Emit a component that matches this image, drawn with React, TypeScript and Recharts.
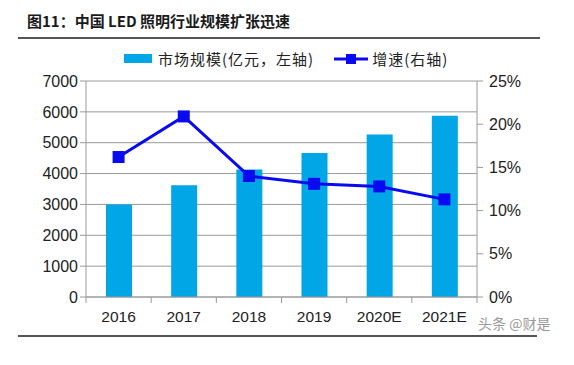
import React from "react";
import {
  ComposedChart,
  Bar,
  Line,
  XAxis,
  YAxis,
  CartesianGrid,
} from "recharts";

const years = ["2016", "2017", "2018", "2019", "2020E", "2021E"];
const marketSize = [3000, 3620, 4130, 4670, 5270, 5870]; // 亿元
const growth = [0.162, 0.209, 0.14, 0.131, 0.128, 0.113];
const leftTicks = [0, 1000, 2000, 3000, 4000, 5000, 6000, 7000];
const rightTicks = [0, 0.05, 0.1, 0.15, 0.2, 0.25];

const BAR_COLOR = "#00a6e6";
const LINE_COLOR = "#0a0af0";
const AXIS_COLOR = "#9a9a9a";
const FONT = "'Liberation Sans', Arial, sans-serif";
const CJK = "'Noto Sans CJK SC', 'Liberation Sans', sans-serif";

const data = years.map((y, i) => ({
  year: y,
  size: marketSize[i],
  growth: growth[i],
}));

// square marker like excel
const SquareDot = (props: any) => {
  const { cx, cy } = props;
  if (cx == null || cy == null) return null;
  return <rect x={cx - 6} y={cy - 6} width={12} height={12} fill={LINE_COLOR} />;
};

// category label plus boundary tick marks
const XTick = (props: any) => {
  const { x, y, payload, index } = props;
  const half = payload?.offset ?? 32.6;
  const top = y - 8;
  return (
    <g>
      <line x1={x - half} y1={top} x2={x - half} y2={top + 6} stroke={AXIS_COLOR} />
      {index === years.length - 1 && (
        <line x1={x + half} y1={top} x2={x + half} y2={top + 6} stroke={AXIS_COLOR} />
      )}
      <text x={x} y={y + 17} textAnchor="middle" fontSize={15.5} fill="#222" fontFamily={FONT}>
        {payload.value}
      </text>
    </g>
  );
};

const ChartLegend = () => (
  <div
    style={{
      position: "absolute",
      left: 124,
      top: 48,
      display: "flex",
      alignItems: "center",
      fontFamily: CJK,
      fontSize: 15,
      letterSpacing: 1,
      color: "#222",
      whiteSpace: "nowrap",
    }}
  >
    <span style={{ width: 28, height: 9, background: BAR_COLOR, display: "inline-block" }} />
    <span style={{ marginLeft: 6 }}>市场规模(亿元，左轴)</span>
    <svg width={34} height={14} style={{ marginLeft: 20 }}>
      <line x1={0} y1={7} x2={34} y2={7} stroke={LINE_COLOR} strokeWidth={3} />
      <rect x={12} y={2} width={10} height={10} fill={LINE_COLOR} />
    </svg>
    <span style={{ marginLeft: 4 }}>增速(右轴)</span>
  </div>
);

export default function App() {
  return (
    <div style={{ position: "absolute", left: 0, top: 0, width: 574, height: 365, background: "#fff" }}>
      <div
        style={{
          position: "absolute",
          left: 27,
          top: 10,
          fontFamily: CJK,
          fontWeight: 700,
          fontSize: 15,
          color: "#1a1a1a",
          whiteSpace: "nowrap",
        }}
      >
        图11：中国 LED 照明行业规模扩张迅速
      </div>
      <div style={{ position: "absolute", left: 18, top: 37, width: 522, height: 2, background: "#555" }} />
      <div style={{ position: "absolute", left: 18, top: 335, width: 519, height: 2, background: "#555" }} />
      <div
        style={{
          position: "absolute",
          left: 478,
          top: 313,
          fontFamily: CJK,
          fontSize: 14,
          color: "#9a9a9a",
          whiteSpace: "nowrap",
        }}
      >
        头条 @财是
      </div>
      <ChartLegend />
      <div style={{ position: "absolute", left: 0, top: 0 }}>
        <ComposedChart
          width={574}
          height={365}
          data={data}
          margin={{ top: 81, right: 37, bottom: 38, left: 26 }}
        >
          <CartesianGrid yAxisId="left" vertical={false} stroke={AXIS_COLOR} />
          <XAxis
            dataKey="year"
            axisLine={{ stroke: AXIS_COLOR }}
            tickLine={false}
            tick={<XTick />}
            height={30}
            interval={0}
          />
          <YAxis
            yAxisId="left"
            domain={[0, 7000]}
            ticks={leftTicks}
            width={60}
            axisLine={{ stroke: AXIS_COLOR }}
            tickLine={{ stroke: AXIS_COLOR }}
            tick={{ fontSize: 16, fill: "#222", fontFamily: FONT }}
            interval={0}
          />
          <YAxis
            yAxisId="right"
            orientation="right"
            domain={[0, 0.25]}
            ticks={rightTicks}
            width={60}
            axisLine={{ stroke: AXIS_COLOR }}
            tickLine={{ stroke: AXIS_COLOR }}
            tick={{ fontSize: 16, fill: "#222", fontFamily: FONT, dx: 4 }}
            tickFormatter={(v: number) => `${Math.round(v * 100)}%`}
            interval={0}
          />
          <Bar
            yAxisId="left"
            dataKey="size"
            name="市场规模(亿元，左轴)"
            fill={BAR_COLOR}
            barSize={26}
            isAnimationActive={false}
          />
          <Line
            yAxisId="right"
            dataKey="growth"
            name="增速(右轴)"
            stroke={LINE_COLOR}
            strokeWidth={3}
            dot={<SquareDot />}
            activeDot={false}
            isAnimationActive={false}
          />
        </ComposedChart>
      </div>
    </div>
  );
}
